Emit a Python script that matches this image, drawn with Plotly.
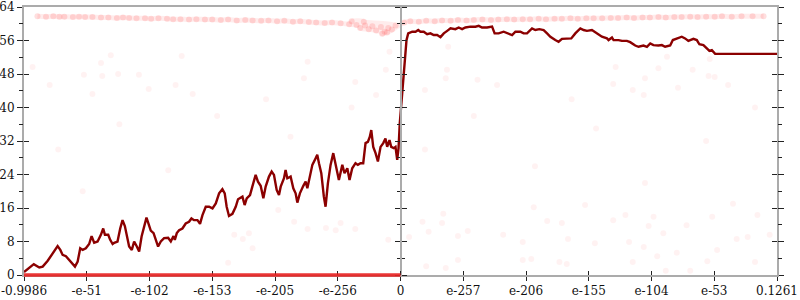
import plotly.graph_objects as go

# ---------------- data ----------------
# x is the signed log10 magnitude, shifted so that the two halves meet at 0
x_range = [-308, 308]
x_tick_pos = [-308, -256.67, -205.33, -154, -102.67, -51.33, 0,
              51.33, 102.67, 154, 205.33, 256.67, 308]
x_tick_text = ["-0.9986", "-e-51", "-e-102", "-e-153", "-e-205", "-e-256", "0",
               "e-257", "e-206", "e-155", "e-104", "e-53", "0.1261"]
y_range = [0, 64]
y_tick_vals = [0, 8, 16, 24, 32, 40, 48, 56, 64]

line_x = [-308, -304, -300, -295.5, -292.7, -288.6, -286, -283.2, -280.5, -278.3,
          -276.4, -273.7, -271, -268.2, -266.3, -264.1, -262, -260, -257.4, -254.7,
          -252.7, -250.6, -247.8, -245.1, -243.2, -241.8, -239.1, -237.5, -235.5, -234.2,
          -231.5, -229.3, -227.4, -225.5, -223.9, -222, -219.8, -217.9, -215.7, -213.8,
          -211.8, -209.7, -207.8, -206.1, -204.3, -202, -200.2, -198.3, -196.1, -193.4,
          -190.1, -187.9, -185.7, -184.6, -183, -181.1, -178.4, -175.7, -173, -171,
          -168.9, -166.1, -164, -162, -159.3, -156.6, -153.8, -151.1, -148.4, -145.7,
          -143.8, -142.2, -140.3, -137.5, -134.8, -132.9, -129.3, -127.5, -125.8, -123.1,
          -121.2, -118.5, -116.6, -114.4, -112.2, -110.3, -107.6, -105.4, -103.5, -101.3,
          -99.4, -98, -95.3, -94, -92.6, -89.9, -87.7, -85.8, -84.4, -82.3,
          -79.5, -77.6, -76.2, -74.1, -72.1, -69.4, -68.1, -66.7, -64.8, -62.7,
          -61.3, -59.4, -57.2, -55, -53.1, -51.7, -50.4, -47.6, -45.8, -43.5,
          -41.7, -39.5, -36.8, -34.9, -32.7, -30.5, -28.6, -26.7, -25.1, -23.9,
          -22.3, -20.4, -18.5, -16.3, -14.1, -12.3, -10.9, -9, -7.6, -5.5,
          -4.1, -2.7, -1.6, -0.6,
          0.8, 2.7, 4.9, 6.3, 9.6, 12.3, 14.5, 16.3, 19, 21.8,
          24.5, 27.2, 30, 32.7, 35.4, 38.2, 40.9, 44.9, 47.6, 50.4,
          53.1, 57.2, 61.3, 64, 66.7, 70.8, 74.9, 77, 80.3, 84.4,
          88.5, 91.3, 94, 98, 100.7, 103.5, 107.6, 110.3, 113.6, 117.1,
          119.9, 122.6, 126.6, 129.3, 132.1, 136.2, 139.7, 143, 147.1, 149.8,
          152.5, 156.6, 160.7, 164.8, 168.9, 170.2, 173, 174.3, 178.4, 181.1,
          185.2, 187.9, 192, 194.7, 198.8, 201.6, 204.3, 206.9, 211, 213.8,
          216.5, 220.6, 222.8, 226.1, 230.1, 232.8, 235.5, 239.6, 242.4, 244.5,
          247.8, 250.6, 252.7, 254.7, 257.4, 308]
line_y = [0.7, 1.6, 2.6, 1.8, 2.0, 3.4, 4.5, 5.6, 6.9, 6.0,
          4.8, 4.5, 3.6, 2.8, 2.0, 3.2, 6.4, 6.0, 6.4, 7.4,
          9.3, 7.7, 8.0, 9.6, 11.1, 9.6, 9.6, 8.4, 7.4, 7.7,
          8.0, 11.1, 13.1, 11.7, 9.3, 6.8, 6.0, 8.0, 6.8, 5.6,
          9.2, 11.9, 13.7, 12.2, 10.6, 10.0, 8.4, 6.8, 8.0, 8.8,
          8.9, 8.0, 9.3, 8.4, 10.0, 10.7, 11.1, 12.3, 12.7, 13.5,
          13.1, 13.1, 12.2, 14.3, 16.3, 16.3, 15.9, 17.1, 19.5, 20.5,
          19.5, 16.3, 14.1, 14.6, 16.3, 18.1, 18.7, 16.7, 18.3, 19.1,
          21.1, 23.9, 22.3, 21.3, 18.3, 21.1, 23.5, 24.7, 23.9, 20.3,
          19.1, 21.1, 23.1, 25.1, 23.1, 23.5, 20.7, 19.5, 17.3, 19.5,
          21.3, 22.3, 20.7, 23.9, 26.3, 27.9, 28.7, 26.7, 24.3, 18.7,
          16.3, 21.9, 26.3, 29.1, 26.7, 24.7, 22.7, 26.3, 24.3, 25.5,
          22.7, 25.5, 26.7, 26.3, 26.7, 26.7, 31.5, 31.8, 33.0, 34.6,
          30.6, 29.1, 27.1, 30.6, 31.5, 32.6, 30.6, 32.2, 30.6, 30.3,
          30.6, 27.5, 30.3, 36.2,
          41.8, 49.7, 56.1, 57.7, 58.1, 58.1, 58.5, 58.1, 58.1, 57.5,
          57.7, 57.3, 57.3, 56.8, 57.7, 58.3, 58.9, 58.7, 59.1, 58.7,
          59.1, 59.3, 59.3, 59.5, 59.1, 59.1, 59.3, 57.7, 57.7, 58.1,
          57.7, 57.3, 58.1, 58.1, 57.7, 57.7, 58.9, 58.5, 58.7, 58.5,
          57.7, 56.9, 56.1, 55.7, 56.4, 56.4, 56.5, 57.7, 58.9, 58.5,
          58.3, 58.5, 57.7, 56.9, 56.5, 56.1, 56.7, 56.1, 56.1, 55.9,
          55.9, 55.6, 54.8, 54.5, 54.8, 54.5, 55.3, 54.9, 54.8, 54.9,
          54.5, 54.8, 56.1, 56.4, 56.9, 56.5, 55.9, 56.4, 56.1, 55.1,
          54.9, 54.1, 53.5, 53.7, 52.8, 52.8]

# dense band of samples near the top
band_x = [-297, -290, -284, -279, -275, -268, -263, -258, -252, -245,
          -239, -232, -227, -222, -216, -209, -204, -198, -191, -186,
          -180, -173, -167, -160, -154, -147, -141, -134, -127, -121,
          -114, -108, -101, -95, -88, -82, -75, -69, -62, -56,
          -49, -42, -36, -29, -23, -16, -10, -4, -40, -30,
          -33, -26, -20, -13, -7, -15, -11,
          3, 8, 15, 21, 28, 34, 41, 47, 54, 60,
          67, 74, 80, 87, 93, 100, 106, 113, 119, 126,
          132, 139, 145, 152, 158, 165, 172, 178, 185, 191,
          198, 204, 211, 217, 224, 230, 237, 243, 250, 257,
          263, 271, 279, 288, 297]
band_y = [61.8, 61.7, 61.8, 61.7, 61.7, 61.6, 61.7, 61.6, 61.6, 61.5,
          61.5, 61.4, 61.5, 61.4, 61.3, 61.3, 61.2, 61.3, 61.2, 61.1,
          61.1, 61.0, 61.1, 61.0, 61.0, 60.9, 61.0, 60.8, 60.9, 60.8,
          60.7, 60.8, 60.6, 60.7, 60.5, 60.6, 60.4, 60.3, 60.2, 60.3,
          60.1, 59.9, 59.7, 59.6, 59.4, 59.2, 59.0, 59.6, 60.6, 60.5,
          59.0, 58.7, 58.4, 58.1, 58.6, 57.6, 57.9,
          60.3, 60.6, 60.5, 60.7, 60.6, 60.8, 60.7, 60.9, 60.8, 60.9,
          61.0, 60.9, 61.0, 61.1, 61.0, 61.1, 61.1, 61.2, 61.1, 61.2,
          61.2, 61.3, 61.2, 61.3, 61.3, 61.3, 61.4, 61.4, 61.5, 61.4,
          61.5, 61.5, 61.6, 61.5, 61.6, 61.6, 61.7, 61.6, 61.7, 61.7,
          61.8, 61.7, 61.8, 61.8, 61.8]

# sparse faint samples
sparse_x = [-301, -287, -259, -237, -245, -244, -231, -214, -206, -179,
            -184, -170, -252, -100, -87, -76, -61, -53, -49, -37,
            -136, -124, -129, -121, -141, -10, 7, 18, 35, 34,
            23, 47, 55, 21, 47, 37, 84, 100, 109, 120,
            132, 137, 100, 107, 130, 136, 151, 159, 174, 184,
            207, 203, 215, 187, 199, 190, 210, 226, 234, 255,
            259, 251, 272, 275, 284, 290, 292, 302, 217, 237,
            176, 174, 200, 211, 218, 190, 199, 227, 239, 252,
            253, 257, 268, -76, -79, -37, -9, -12, -20, 38,
            37, 63, 39, 20, 79,
            -280, -230, -190, -150, -90, -40, 20, 60, 110, 160,
            200, 250, 290, -260, 140, -110]
sparse_y = [49.7, 45.4, 47.8, 52.5, 50.6, 47.5, 48.0, 47.8, 44.4, 52.3,
            45.4, 43.2, 43.2, 15.5, 12.7, 11.0, 11.2, 10.7, 12.4, 11.0,
            9.6, 10.0, 8.6, 6.4, 2.9, 8.4, 9.1, 12.7, 14.6, 12.4,
            10.3, 9.3, 10.5, 2.1, 3.6, 1.7, 9.6, 7.9, 16.2, 12.9,
            12.4, 8.6, 3.6, 3.8, 3.1, 2.6, 16.7, 7.6, 13.1, 14.3,
            13.9, 11.7, 10.0, 7.9, 6.7, 3.1, 4.5, 5.3, 11.9, 13.9,
            6.0, 3.3, 17.0, 8.6, 9.1, 3.1, 14.3, 9.6, 1.0, 1.0,
            49.7, 45.6, 47.0, 49.4, 52.1, 44.2, 43.0, 44.7, 49.0, 47.5,
            51.6, 47.3, 45.4, 50.9, 47.0, 46.1, 53.3, 49.0, 43.0, 49.0,
            47.0, 46.6, 54.5, 44.2, 45.4,
            30, 36, 25, 38, 33, 40, 30, 38, 26, 35,
            22, 32, 40, 20, 42, 42]

# samples stuck at zero on the negative side
zero_x = [-308, 0]
zero_y = [0, 0]

# ---------------- figure ----------------
AX_GRAY = "#ababab"
TICK = "#222222"
FONT = dict(family="'DejaVu Serif', 'Liberation Serif', serif", size=12, color="#111111")

fig = go.Figure()

fig.add_trace(go.Scatter(x=band_x, y=band_y, mode="lines",
                         line=dict(color="rgba(255,70,70,0.10)", width=5, shape="spline"),
                         hoverinfo="skip"))
fig.add_trace(go.Scatter(x=band_x, y=band_y, mode="markers",
                         marker=dict(size=6, color="rgba(255,30,30,0.14)", line=dict(width=0)),
                         hoverinfo="skip"))
fig.add_trace(go.Scatter(x=sparse_x, y=sparse_y, mode="markers",
                         marker=dict(size=6, color="rgba(255,0,0,0.05)", line=dict(width=0)),
                         hoverinfo="skip"))
fig.add_trace(go.Scatter(x=line_x, y=line_y, mode="lines",
                         line=dict(color="#8b0000", width=2.4), hoverinfo="skip"))

# invisible helpers so that the overlay axes (used for crossing ticks) are drawn
for xa, ya in [("x2", "y"), ("x", "y2"), ("x", "y3"), ("x", "y4"), ("x", "y5"), ("x", "y6")]:
    fig.add_trace(go.Scatter(x=[None], y=[None], xaxis=xa, yaxis=ya, mode="markers",
                             hoverinfo="skip", showlegend=False))

fig.add_shape(type="line", xref="x", yref="paper", x0=zero_x[0], x1=zero_x[1],
              y0=zero_y[0], y1=zero_y[1], layer="above",
              line=dict(color="rgba(232,32,32,0.9)", width=3.5))

common_x = dict(range=x_range, tickmode="array", tickvals=x_tick_pos,
                showgrid=False, zeroline=False, fixedrange=True, automargin=False)
common_y = dict(range=y_range, tickmode="array", tickvals=y_tick_vals,
                showgrid=False, zeroline=False, fixedrange=True, automargin=False,
                minor=dict(dtick=4, tick0=0, ticklen=3, tickcolor=TICK, tickwidth=1,
                           showgrid=False))

fig.update_layout(
    width=800, height=300,
    margin=dict(l=24, r=23, t=7, b=25, pad=0, autoexpand=False),
    plot_bgcolor="white", paper_bgcolor="white",
    showlegend=False, font=FONT,
    xaxis=dict(**common_x, ticktext=x_tick_text, ticks="outside", ticklen=4,
               tickwidth=1, tickcolor=TICK, showline=True, linecolor=AX_GRAY,
               linewidth=2, mirror=True, tickfont=FONT),
    xaxis2=dict(**common_x, overlaying="x", anchor="y", side="bottom",
                ticks="inside", ticklen=4, tickwidth=1, tickcolor=TICK,
                showticklabels=False, showline=False),
    yaxis=dict(**common_y, side="left", ticks="outside", ticklen=5, tickwidth=1,
               tickcolor=TICK, showline=True, linecolor=AX_GRAY, linewidth=2,
               tickfont=FONT),
    yaxis2=dict(**common_y, overlaying="y", anchor="x", side="left",
                ticks="inside", ticklen=5, tickwidth=1, tickcolor=TICK,
                showticklabels=False, showline=False),
    yaxis3=dict(**common_y, overlaying="y", anchor="x", side="right",
                ticks="outside", ticklen=5, tickwidth=1, tickcolor=TICK,
                showticklabels=False, showline=True, linecolor=AX_GRAY, linewidth=2),
    yaxis4=dict(**common_y, overlaying="y", anchor="x", side="right",
                ticks="inside", ticklen=5, tickwidth=1, tickcolor=TICK,
                showticklabels=False, showline=False),
    yaxis5=dict(**common_y, overlaying="y", anchor="free", position=0.5, side="left",
                ticks="outside", ticklen=5, tickwidth=1, tickcolor=TICK,
                showticklabels=False, showline=True, linecolor=AX_GRAY, linewidth=2),
    yaxis6=dict(**common_y, overlaying="y", anchor="free", position=0.5, side="right",
                ticks="outside", ticklen=5, tickwidth=1, tickcolor=TICK,
                showticklabels=False, showline=False),
)

fig.write_html("out.html")
